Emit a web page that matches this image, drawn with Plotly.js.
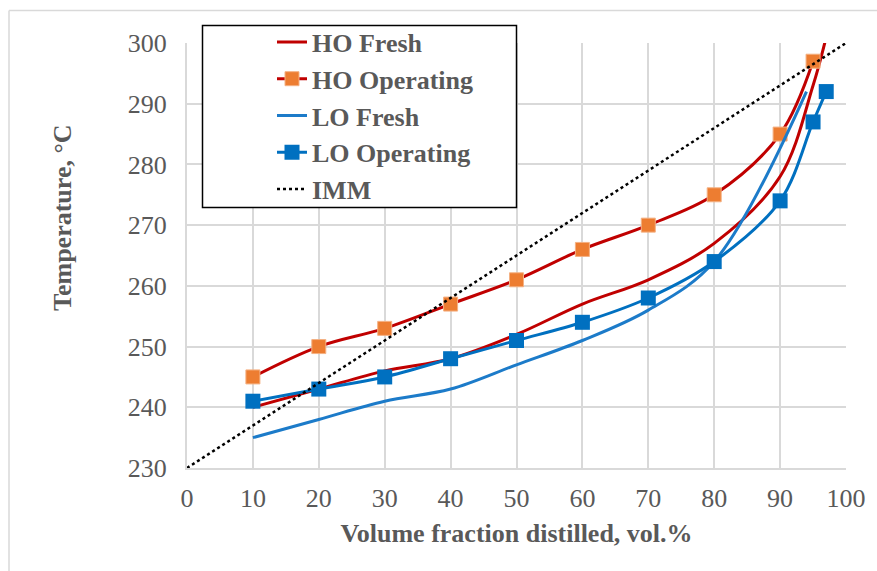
<!DOCTYPE html>
<html>
<head>
<meta charset="utf-8">
<script src="https://cdn.plot.ly/plotly-3.0.1.min.js"></script>
<style>html,body{margin:0;padding:0;background:#fff;}#chart{width:877px;height:571px;}</style>
</head>
<body>
<div id="chart"></div>
<script>
// Data
const hoFreshX = [10, 20, 30, 40, 50, 60, 70, 80, 90, 95, 97];
const hoFreshY = [240, 243, 246, 248, 252, 257, 261, 267, 278, 293, 301];

const hoOperX = [10, 20, 30, 40, 50, 60, 70, 80, 90, 95];
const hoOperY = [245, 250, 253, 257, 261, 266, 270, 275, 285, 297];

const loFreshX = [10, 20, 30, 40, 50, 60, 70, 80, 94];
const loFreshY = [235, 238, 241, 243, 247, 251, 256, 264, 292];

const loOperX = [10, 20, 30, 40, 50, 60, 70, 80, 90, 95, 97];
const loOperY = [241, 243, 245, 248, 251, 254, 258, 264, 274, 287, 292];

const immX = [0, 100];
const immY = [230, 300];

const xTicks = [0, 10, 20, 30, 40, 50, 60, 70, 80, 90, 100];
const yTicks = [230, 240, 250, 260, 270, 280, 290, 300];

const FONT = "'Liberation Serif', 'Times New Roman', serif";
const GRAY = '#595959';
const FS = 26;

const traces = [
  {x: hoFreshX, y: hoFreshY, name: 'HO Fresh', mode: 'lines', legendgroup: 'a',
   line: {color: '#C00000', width: 3, shape: 'spline', smoothing: 1}},
  {x: hoOperX, y: hoOperY, name: 'HO Operating', mode: 'lines+markers', legendgroup: 'b',
   line: {color: '#C00000', width: 3, shape: 'spline', smoothing: 1},
   marker: {symbol: 'square', size: 14, color: '#ED7D31', line: {width: 1, color: '#F4B183'}}},
  {x: loFreshX, y: loFreshY, name: 'LO Fresh', mode: 'lines', legendgroup: 'c',
   line: {color: '#1C7BC9', width: 3, shape: 'spline', smoothing: 1}},
  {x: loOperX, y: loOperY, name: 'LO Operating', mode: 'lines+markers', legendgroup: 'd',
   line: {color: '#0070C0', width: 3, shape: 'spline', smoothing: 1},
   marker: {symbol: 'square', size: 15, color: '#0070C0'}},
  {x: immX, y: immY, name: 'IMM', mode: 'lines', legendgroup: 'e',
   line: {color: '#000000', width: 2.5, dash: 'dot'}}
];

const px2x = p => (p - 187) / 659;
const px2y = p => (468 - p) / 425;

const layout = {
  width: 877, height: 571,
  margin: {l: 187, r: 31, t: 43, b: 103},
  paper_bgcolor: '#ffffff', plot_bgcolor: '#ffffff',
  font: {family: FONT, color: GRAY, size: FS},
  showlegend: true,
  xaxis: {
    range: [0, 100], tickvals: xTicks, ticktext: xTicks.map(String),
    showgrid: true, gridcolor: '#d9d9d9', gridwidth: 2,
    showline: true, linecolor: '#d9d9d9', linewidth: 2,
    zeroline: false, ticks: '', ticklabelstandoff: 6,
    tickfont: {family: FONT, color: GRAY, size: FS},
    title: {text: '<b>Volume fraction distilled, vol.%</b>', font: {family: FONT, color: GRAY, size: FS}, standoff: 12}
  },
  yaxis: {
    range: [230, 300], tickvals: yTicks, ticktext: yTicks.map(String),
    showgrid: true, gridcolor: '#d9d9d9', gridwidth: 2,
    showline: true, linecolor: '#d9d9d9', linewidth: 2,
    zeroline: false, ticks: '', ticklabelstandoff: 13,
    tickfont: {family: FONT, color: GRAY, size: FS}
  },
  legend: {
    x: px2x(272), xanchor: 'left', y: px2y(18.5), yanchor: 'top',
    bgcolor: 'rgba(0,0,0,0)', borderwidth: 0,
    traceorder: 'grouped', tracegroupgap: 0,
    font: {family: FONT, color: GRAY, size: FS, weight: 'bold'},
    itemwidth: 30
  },
  shapes: [
    {type: 'rect', xref: 'paper', yref: 'paper', layer: 'above',
     x0: px2x(202.5), x1: px2x(516.5), y0: px2y(207.5), y1: px2y(25.5),
     fillcolor: '#ffffff', line: {color: '#000000', width: 1.5}},
    {type: 'line', xref: 'paper', yref: 'paper', layer: 'above',
     x0: px2x(9), x1: px2x(877), y0: px2y(10.5), y1: px2y(10.5),
     line: {color: '#d9d9d9', width: 1.5}},
    {type: 'line', xref: 'paper', yref: 'paper', layer: 'above',
     x0: px2x(9), x1: px2x(9), y0: px2y(10.5), y1: px2y(571),
     line: {color: '#d9d9d9', width: 1.5}}
  ],
  annotations: [
    {text: '<b>Temperature, °C</b>', xref: 'paper', yref: 'paper',
     x: px2x(62), y: px2y(217), xanchor: 'center', yanchor: 'middle',
     textangle: -90, showarrow: false, font: {family: FONT, color: GRAY, size: FS}}
  ]
};

Plotly.newPlot('chart', traces, layout, {displayModeBar: false, staticPlot: true});
</script>
</body>
</html>
